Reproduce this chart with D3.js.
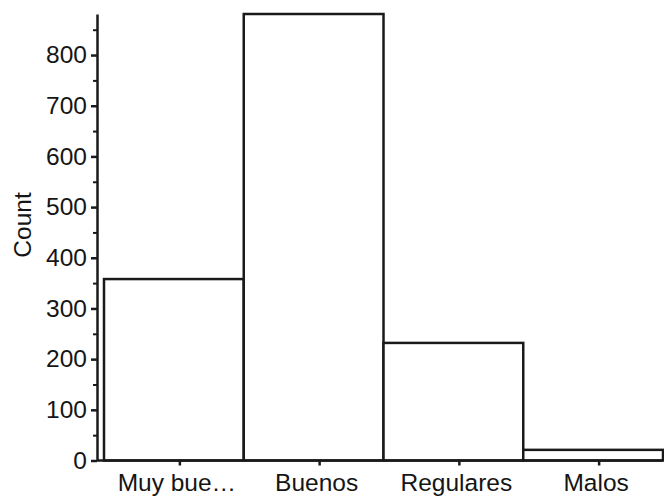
<!DOCTYPE html>
<html>
<head>
<meta charset="utf-8">
<script src="https://cdn.jsdelivr.net/npm/d3@7/dist/d3.min.js"></script>
<style>
  html, body { margin: 0; padding: 0; background: #fff; }
  svg { display: block; }
  text { font-family: "Liberation Sans", Arial, Helvetica, sans-serif; fill: #151515; }
</style>
</head>
<body>
<svg id="chart" width="664" height="497"></svg>
<script>
const categories = ["Muy bue…", "Buenos", "Regulares", "Malos"];
const counts = [358, 881, 232, 21];
const majorTicks = [0, 100, 200, 300, 400, 500, 600, 700, 800];
const minorTicks = [50, 150, 250, 350, 450, 550, 650, 750, 850];
const yLabel = "Count";

const svg = d3.select("#chart");
const axisX = 97;
const ink = "#1a1a1a";
const fs = "24.5px";

const y = d3.scaleLinear().domain([0, 881]).range([460.5, 14]);
const x = d3.scaleBand().domain(categories).range([104, 663]).padding(0);

// bars
svg.append("g").selectAll("rect")
  .data(categories.map((c, i) => ({ c, v: counts[i] })))
  .join("rect")
  .attr("x", d => x(d.c))
  .attr("y", d => y(d.v))
  .attr("width", x.bandwidth())
  .attr("height", d => y(0) - y(d.v))
  .attr("fill", "#fff")
  .attr("stroke", ink)
  .attr("stroke-width", 2.5);

// baseline
svg.append("line")
  .attr("x1", axisX).attr("x2", 663)
  .attr("y1", y(0)).attr("y2", y(0))
  .attr("stroke", ink).attr("stroke-width", 2.5);

// y axis major
const gy = svg.append("g").attr("transform", `translate(${axisX},0)`)
  .call(d3.axisLeft(y).tickValues(majorTicks).tickSize(6).tickPadding(4).tickSizeOuter(0));
gy.select(".domain").attr("stroke", ink).attr("stroke-width", 2.5);
gy.selectAll(".tick line").attr("stroke", ink).attr("stroke-width", 2.5);
gy.selectAll(".tick text").style("font-size", fs).attr("fill", "#151515")
  .style("font-family", "'Liberation Sans', Arial, sans-serif");

// y axis minor
const gm = svg.append("g").attr("transform", `translate(${axisX},0)`)
  .call(d3.axisLeft(y).tickValues(minorTicks).tickSize(4).tickFormat(""));
gm.select(".domain").remove();
gm.selectAll(".tick line").attr("stroke", ink).attr("stroke-width", 2);

// x axis ticks and labels
const gx = svg.append("g").attr("transform", `translate(6,${y(0)})`)
  .call(d3.axisBottom(x).tickSize(5).tickPadding(8).tickSizeOuter(0));
gx.select(".domain").remove();
gx.selectAll(".tick line").attr("stroke", ink).attr("stroke-width", 2.5);
gx.selectAll(".tick text").style("font-size", fs).attr("fill", "#151515")
  .attr("dx", "-3")
  .style("font-family", "'Liberation Sans', Arial, sans-serif");

// y label
svg.append("text")
  .attr("transform", `translate(31,225) rotate(-90)`)
  .attr("text-anchor", "middle")
  .style("font-size", fs)
  .text(yLabel);
</script>
</body>
</html>
